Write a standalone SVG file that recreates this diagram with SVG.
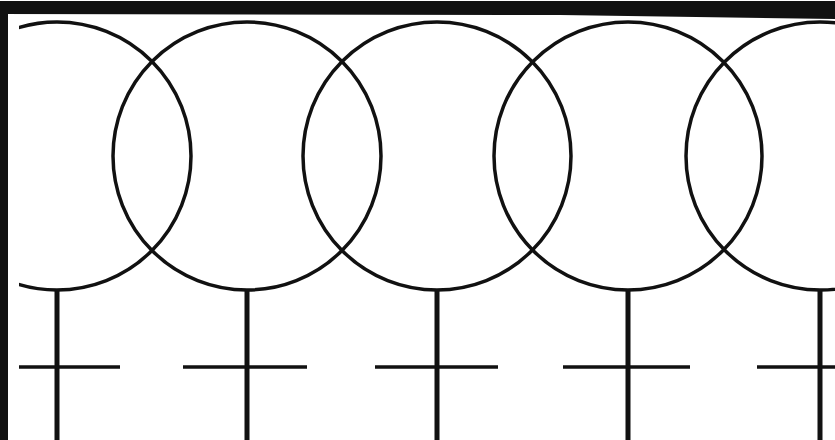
<svg xmlns="http://www.w3.org/2000/svg" width="835" height="440" viewBox="0 0 835 440">
<style>
.ring{fill:none;stroke:#111;stroke-width:3.5}
.stem{stroke:#111;stroke-width:5}
.bar{stroke:#111;stroke-width:3.5}
</style>
<defs>
<clipPath id="clip"><rect x="19" y="14" width="816" height="426"/></clipPath>
</defs>
<rect width="835" height="440" fill="#fff"/>
<g id="frame" fill="#111">
<polygon points="0,1 835,1 835,19 560,15 0,14"/>
<rect x="0" y="1" width="8" height="439"/>
</g>
<g clip-path="url(#clip)">
<g id="symbol1"><circle class="ring" cx="57" cy="156" r="134"/><line class="stem" x1="57" y1="290" x2="57" y2="440"/><line class="bar" x1="-5" y1="367" x2="120" y2="367"/></g>
<g id="symbol2"><circle class="ring" cx="247" cy="156" r="134"/><line class="stem" x1="247" y1="290" x2="247" y2="440"/><line class="bar" x1="183" y1="367" x2="307" y2="367"/></g>
<g id="symbol3"><circle class="ring" cx="437" cy="156" r="134"/><line class="stem" x1="437" y1="290" x2="437" y2="440"/><line class="bar" x1="375" y1="367" x2="498" y2="367"/></g>
<g id="symbol4"><circle class="ring" cx="628" cy="156" r="134"/><line class="stem" x1="628" y1="290" x2="628" y2="440"/><line class="bar" x1="563" y1="367" x2="690" y2="367"/></g>
<g id="symbol5"><circle class="ring" cx="820" cy="156" r="134"/><line class="stem" x1="820" y1="290" x2="820" y2="440"/><line class="bar" x1="757" y1="367" x2="882" y2="367"/></g>
</g>
<g id="connectors"/>
</svg>
